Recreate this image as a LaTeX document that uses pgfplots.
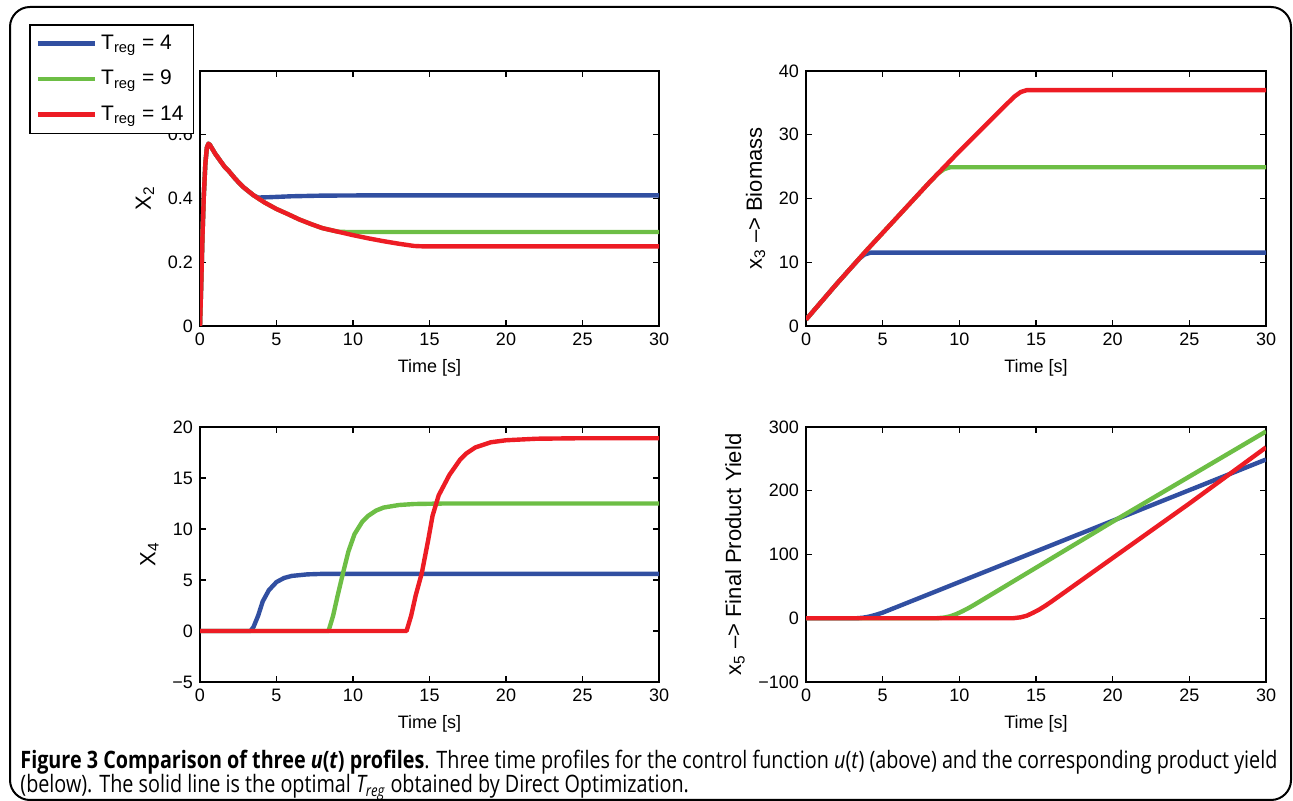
\documentclass[border=0pt]{standalone}
\usepackage{fontspec}
\setmainfont{Liberation Sans}
\newfontfamily\capfont{Open Sans}
\usepackage{pgfplots}
\pgfplotsset{compat=1.18}

\definecolor{mblue}{RGB}{49,79,161}
\definecolor{mgreen}{RGB}{109,190,69}
\definecolor{mred}{RGB}{237,28,36}

\pgfplotsset{
  panel/.style={
    scale only axis, width=229.5pt, height=127.5pt,
    anchor=south west,
    xmin=0, xmax=30, xtick={0,5,...,30},
    axis line style={line width=0.75pt},
    major tick style={line width=0.6pt, black},
    major tick length=3pt,
    tick label style={font=\fontsize{9}{10}\selectfont},
    xlabel style={font=\fontsize{9}{10}\selectfont},
    ylabel style={font=\fontsize{11}{12}\selectfont},
    /pgf/number format/assume math mode=true,
    xlabel={Time [s]},
    clip=true,
  },
  cb/.style={mblue, line width=2.2pt, line join=round},
  cg/.style={mgreen, line width=2.2pt, line join=round},
  cr/.style={mred, line width=2.2pt, line join=round},
}

\newlength\capw
\newcommand\lineone{{\bfseries Figure 3 Comparison of three \textit{u}(\textit{t}) profiles}. Three time profiles for the control function \textit{u}(\textit{t}) (above) and the corresponding product yield}
\newcommand\linetwo{(below). The solid line is the optimal \textit{T\textsubscript{reg}} obtained by Direct Optimization.}

\begin{document}%
\settowidth\capw{\capfont\fontsize{12}{14}\selectfont\lineone}%
\pgfmathsetmacro\capsx{628.5pt/\capw}%
\begin{tikzpicture}
\useasboundingbox (0,0) rectangle (646.5pt,400.5pt);
\draw[line width=1pt, rounded corners=10pt] (5pt,0.5pt) rectangle (645.5pt,397pt);

% x2
\begin{axis}[panel, at={(100pt,237.5pt)},
  ymin=0, ymax=0.8, ytick={0,0.2,0.4,0.6,0.8},
  yticklabel style={/pgf/number format/fixed},
  ylabel={X\textsubscript{2}},
  legend style={at={(-0.3725,1.184)}, anchor=north west, draw=black,
    line width=0.75pt, fill=white, font=\fontsize{10.5}{12}\selectfont,
    row sep=5pt, inner xsep=3pt, inner ysep=3pt},
  legend cell align=left,
  legend image code/.code={\draw[#1] (0pt,0pt) -- (28.5pt,0pt);},
]
\addplot[cb] coordinates {
 (0,0) (0.08,0.13) (0.16,0.28) (0.25,0.41) (0.35,0.51) (0.45,0.56) (0.55,0.572)
 (0.65,0.568) (0.8,0.556) (1,0.54) (1.3,0.52) (1.6,0.50) (1.9,0.485) (2.3,0.462)
 (2.8,0.437) (3.5,0.41) (3.8,0.403) (4.5,0.404) (6,0.407) (8,0.409) (12,0.41) (30,0.41)};
\addlegendentry{T\textsubscript{reg} = 4}
\addplot[cg] coordinates {
 (0,0) (0.08,0.13) (0.16,0.28) (0.25,0.41) (0.35,0.51) (0.45,0.56) (0.55,0.572)
 (0.65,0.568) (0.8,0.556) (1,0.54) (1.3,0.52) (1.6,0.50) (1.9,0.485) (2.3,0.462)
 (2.8,0.437) (3.5,0.41) (4.2,0.388) (5,0.367) (5.7,0.352) (6.5,0.334) (7.3,0.319)
 (8,0.307) (9,0.296) (9.5,0.295) (30,0.295)};
\addlegendentry{T\textsubscript{reg} = 9}
\addplot[cr] coordinates {
 (0,0) (0.08,0.13) (0.16,0.28) (0.25,0.41) (0.35,0.51) (0.45,0.56) (0.55,0.572)
 (0.65,0.568) (0.8,0.556) (1,0.54) (1.3,0.52) (1.6,0.50) (1.9,0.485) (2.3,0.462)
 (2.8,0.437) (3.5,0.41) (4.2,0.388) (5,0.367) (5.7,0.352) (6.5,0.334) (7.3,0.319)
 (8,0.307) (9,0.296) (10,0.285) (11,0.275) (12,0.266) (13,0.258) (14,0.251)
 (14.5,0.25) (30,0.25)};
\addlegendentry{T\textsubscript{reg} = 14}
\end{axis}

% x3
\begin{axis}[panel, at={(403pt,237.5pt)}, width=230pt,
  ymin=0, ymax=40, ytick={0,10,...,40},
  ylabel={x\textsubscript{3} \textendash> Biomass},
]
\addplot[cb] coordinates {
 (0,1) (1,3.8) (2,6.6) (3,9.3) (3.5,10.6) (3.8,11.2) (4.2,11.5) (30,11.5)};
\addplot[cg] coordinates {
 (0,1) (1,3.8) (2,6.6) (3,9.3) (4,12.0) (5,14.6) (6,17.2) (7,19.8) (8,22.4)
 (8.6,23.9) (9,24.6) (9.4,24.9) (30,24.9)};
\addplot[cr] coordinates {
 (0,1) (1,3.8) (2,6.6) (3,9.3) (4,12.0) (5,14.6) (6,17.2) (7,19.8) (8,22.4)
 (9,24.9) (10,27.4) (11,29.8) (12,32.2) (13,34.6) (13.6,36.0) (14,36.7)
 (14.4,37) (30,37)};
\end{axis}

% x4
\begin{axis}[panel, at={(100pt,59.5pt)},
  ymin=-5, ymax=20, ytick={-5,0,5,10,15,20},
  yticklabels={−5,0,5,10,15,20},
  ylabel={X\textsubscript{4}},
]
\addplot[cb] coordinates {
 (0,0) (3.3,0) (3.5,0.4) (3.8,1.5) (4.1,2.9) (4.5,4.0) (5,4.8) (5.5,5.2)
 (6,5.4) (7,5.55) (8,5.6) (30,5.6)};
\addplot[cg] coordinates {
 (0,0) (8.4,0) (8.7,1.5) (9.0,3.5) (9.35,5.7) (9.7,7.8) (10.1,9.5) (10.6,10.7)
 (11,11.3) (11.5,11.8) (12,12.1) (13,12.35) (14,12.45) (16,12.5) (30,12.5)};
\addplot[cr] coordinates {
 (0,0) (13.5,0) (13.8,1.5) (14.1,3.5) (14.5,5.7) (14.9,8.8) (15.2,11.3)
 (15.6,13.3) (16.3,15.3) (17,16.8) (17.4,17.4) (18,18.0) (19,18.5) (20,18.7)
 (22,18.85) (25,18.9) (30,18.9)};
\end{axis}

% x5
\begin{axis}[panel, at={(403pt,59.5pt)}, width=230pt,
  ymin=-100, ymax=300, ytick={-100,0,100,200,300},
  yticklabels={−100,0,100,200,300},
  ylabel={x\textsubscript{5} \textendash> Final Product Yield},
]
\addplot[cb] coordinates {
 (0,0) (3.3,0) (3.7,0.8) (4.1,2.5) (4.5,5) (5,8.8) (5.5,13.6) (30,249)};
\addplot[cg] coordinates {
 (0,0) (8.5,0) (9,1) (9.4,3) (9.8,6.5) (10.2,11) (10.6,16) (11,21.5)
 (20,151.5) (30,293)};
\addplot[cr] coordinates {
 (0,0) (13.5,0) (14,1.5) (14.4,4) (14.8,8.5) (15.2,13.5) (15.6,19.5) (16,26)
 (20,94.5) (25,180) (30,268)};
\end{axis}

\node[anchor=base west, inner sep=0pt] at (10pt,16pt)
  {\scalebox{\capsx}[1]{\capfont\fontsize{12}{14}\selectfont\lineone}};
\node[anchor=base west, inner sep=0pt] at (10pt,4pt)
  {\scalebox{\capsx}[1]{\capfont\fontsize{12}{14}\selectfont\linetwo}};
\end{tikzpicture}
\end{document}
